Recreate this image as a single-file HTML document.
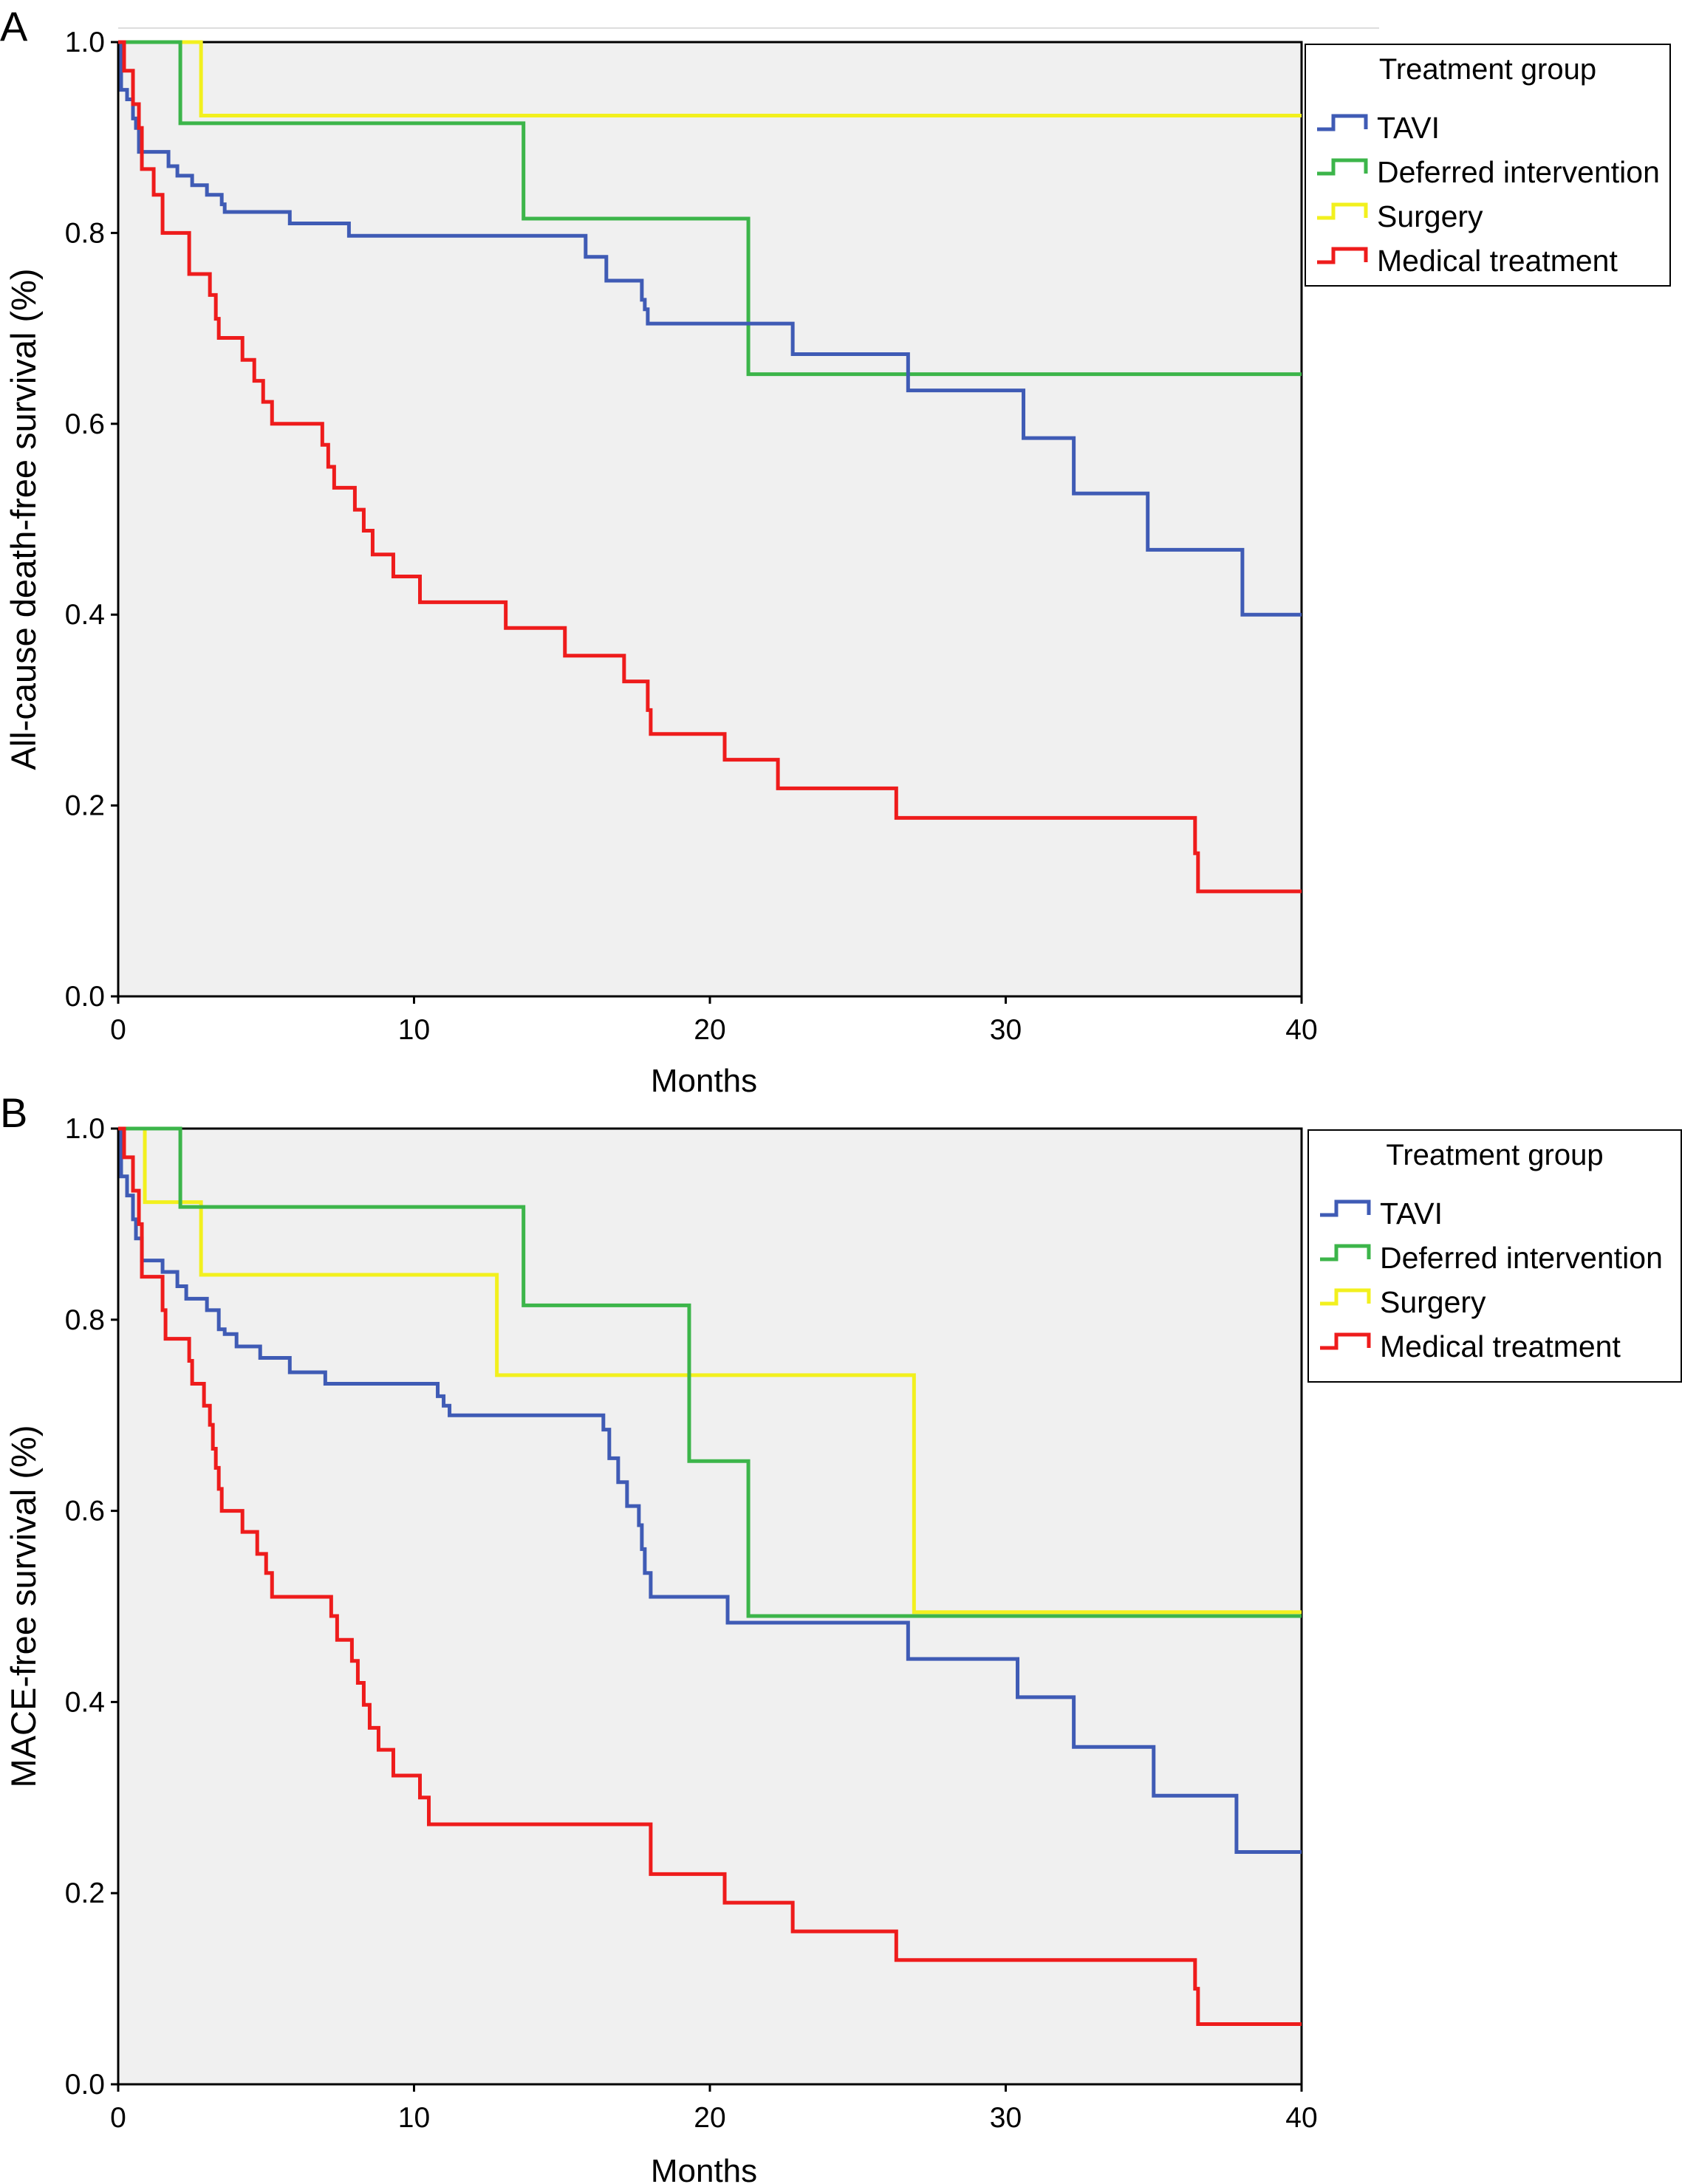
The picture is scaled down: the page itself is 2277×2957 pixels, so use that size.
<!DOCTYPE html>
<html><head><meta charset="utf-8"><style>
html,body{margin:0;padding:0;background:#fff;}
svg{display:block;font-family:"Liberation Sans",sans-serif;}
</style></head><body>
<svg id="chart" width="2277" height="2957" viewBox="0 0 2277 2957" xmlns="http://www.w3.org/2000/svg"></svg>
<script>
// ---- Data ----
const xTicks = [0, 10, 20, 30, 40];
const yTicks = [0.0, 0.2, 0.4, 0.6, 0.8, 1.0];
const seriesNames = ["TAVI", "Deferred intervention", "Surgery", "Medical treatment"];
const seriesColors = ["#3f5bb5", "#3cb54a", "#f2f01e", "#ee1c1c"];

const aTaviT = [0,0.1,0.3,0.5,0.6,0.7,1.7,2.0,2.5,3.0,3.5,3.6,5.8,7.8,15.8,16.5,17.7,17.8,17.9,22.8,26.7,30.6,32.3,34.8,38.0];
const aTaviS = [1,0.95,0.94,0.92,0.91,0.885,0.87,0.86,0.85,0.84,0.83,0.822,0.81,0.797,0.775,0.75,0.73,0.72,0.705,0.673,0.635,0.585,0.527,0.468,0.40];
const aDefT = [0,2.1,13.7,21.3];
const aDefS = [1,0.915,0.815,0.652];
const aSurT = [0,2.8];
const aSurS = [1,0.923];
const aMedT = [0,0.2,0.5,0.7,0.8,1.2,1.5,2.4,3.1,3.3,3.4,4.2,4.6,4.9,5.2,6.9,7.1,7.3,8.0,8.3,8.6,9.3,10.2,13.1,15.1,17.1,17.9,18.0,20.5,22.3,26.3,36.4,36.5];
const aMedS = [1,0.97,0.935,0.91,0.867,0.84,0.80,0.757,0.735,0.71,0.69,0.667,0.645,0.623,0.60,0.578,0.555,0.533,0.51,0.488,0.463,0.44,0.413,0.386,0.357,0.33,0.30,0.275,0.248,0.218,0.187,0.15,0.11];

const bTaviT = [0,0.1,0.3,0.5,0.6,0.8,1.5,2.0,2.3,3.0,3.4,3.6,4.0,4.8,5.8,7.0,10.8,11.0,11.2,16.4,16.6,16.9,17.2,17.6,17.7,17.8,18.0,20.6,26.7,30.4,32.3,35.0,37.8];
const bTaviS = [1,0.95,0.93,0.905,0.885,0.862,0.85,0.835,0.822,0.81,0.79,0.785,0.772,0.76,0.745,0.733,0.72,0.71,0.70,0.685,0.655,0.63,0.605,0.585,0.56,0.535,0.51,0.483,0.445,0.405,0.353,0.302,0.243];
const bDefT = [0,2.1,13.7,19.3,21.3];
const bDefS = [1,0.918,0.815,0.652,0.49];
const bSurT = [0,0.9,2.8,12.8,26.9];
const bSurS = [1,0.923,0.847,0.742,0.494];
const bMedT = [0,0.2,0.5,0.7,0.8,1.5,1.6,2.4,2.5,2.9,3.1,3.2,3.3,3.4,3.5,4.2,4.7,5.0,5.2,7.2,7.4,7.9,8.1,8.3,8.5,8.8,9.3,10.2,10.5,18.0,20.5,22.8,26.3,36.4,36.5];
const bMedS = [1,0.97,0.935,0.90,0.845,0.81,0.78,0.757,0.733,0.71,0.69,0.665,0.645,0.623,0.60,0.578,0.555,0.535,0.51,0.49,0.465,0.443,0.42,0.397,0.373,0.35,0.323,0.30,0.272,0.22,0.19,0.16,0.13,0.10,0.063];

const svg = document.getElementById('chart');
const NS = 'http://www.w3.org/2000/svg';
function mk(tag, attrs, parent){ const e=document.createElementNS(NS,tag); for(const k in attrs) e.setAttribute(k,attrs[k]); (parent||svg).appendChild(e); return e; }

const rule = mk('line',{x1:160,y1:38,x2:1867,y2:38,stroke:'#ddd','stroke-width':2});



function panel(letter, top, bottom, legendBox, yTitle, data, xTitleY){
  const L=160, R=1762;
  const xs = t => L + (t/40)*(R-L);
  const ys = v => bottom - v*(bottom-top);
  const g = mk('g',{});
  
  
  const bg = mk('rect',{x:L,y:top,width:R-L,height:bottom-top,fill:'#f0f0f0',stroke:'#000','stroke-width':3},g);
  
  
  const lt = mk('text',{x:0,y:top-2,'font-size':56},g); lt.textContent=letter;
  
  
  xTicks.forEach(t=>{
    const tk=mk('line',{x1:xs(t),y1:bottom,x2:xs(t),y2:bottom+10,stroke:'#000','stroke-width':3},g);
    
    
    const tx=mk('text',{x:xs(t),y:bottom+58,'font-size':39,'text-anchor':'middle'},g); tx.textContent=t;
    
    
  });
  yTicks.forEach(v=>{
    const tk=mk('line',{x1:L-10,y1:ys(v),x2:L,y2:ys(v),stroke:'#000','stroke-width':3},g);
    
    
    const tx=mk('text',{x:L-18,y:ys(v)+13,'font-size':39,'text-anchor':'end'},g); tx.textContent=v.toFixed(1);
    
    
  });
  const xt=mk('text',{x:(L+R)/2-8,y:xTitleY,'font-size':44,'text-anchor':'middle'},g); xt.textContent='Months';
  
  
  const cy=(top+bottom)/2;
  const yt=mk('text',{x:48,y:cy,'font-size':47,'text-anchor':'middle',transform:`rotate(-90 48 ${cy})`},g); yt.textContent=yTitle;
  
  
  [2,1,0,3].forEach(i=>{
    const T=data[i][0], S=data[i][1];
    let d=`M${xs(T[0])},${ys(S[0])}`;
    for(let k=1;k<T.length;k++){ d+=` H${xs(T[k])} V${ys(S[k])}`; }
    d+=` H${xs(40)}`;
    const p=mk('path',{d:d,fill:'none',stroke:seriesColors[i],'stroke-width':5},g);
    
    
  });
  const [lx,ly,lw,lh]=legendBox;
  const lg=mk('g',{},g);
  
  
  mk('rect',{x:lx,y:ly,width:lw,height:lh,fill:'#fff',stroke:'#000','stroke-width':2},lg);
  const ttl=mk('text',{x:lx+lw/2,y:ly+47,'font-size':40,'text-anchor':'middle'},lg); ttl.textContent='Treatment group';
  
  
  seriesNames.forEach((n,i)=>{
    const yy=ly+115+i*60;
    const sw=mk('path',{d:`M${lx+16},${yy} H${lx+38} V${yy-18} H${lx+82} V${yy}`,fill:'none',stroke:seriesColors[i],'stroke-width':5},lg);
    
    
    const tx=mk('text',{x:lx+97,y:yy+12,'font-size':41},lg); tx.textContent=n;
    
    
  });
}

panel('A',57,1349,[1767,60,494,327],'All-cause death-free survival (%)',
  [[aTaviT,aTaviS],[aDefT,aDefS],[aSurT,aSurS],[aMedT,aMedS]],1478);
panel('B',1528,2822,[1771,1530,505,341],'MACE-free survival (%)',
  [[bTaviT,bTaviS],[bDefT,bDefS],[bSurT,bSurS],[bMedT,bMedS]],2954);
</script>
</body></html>
